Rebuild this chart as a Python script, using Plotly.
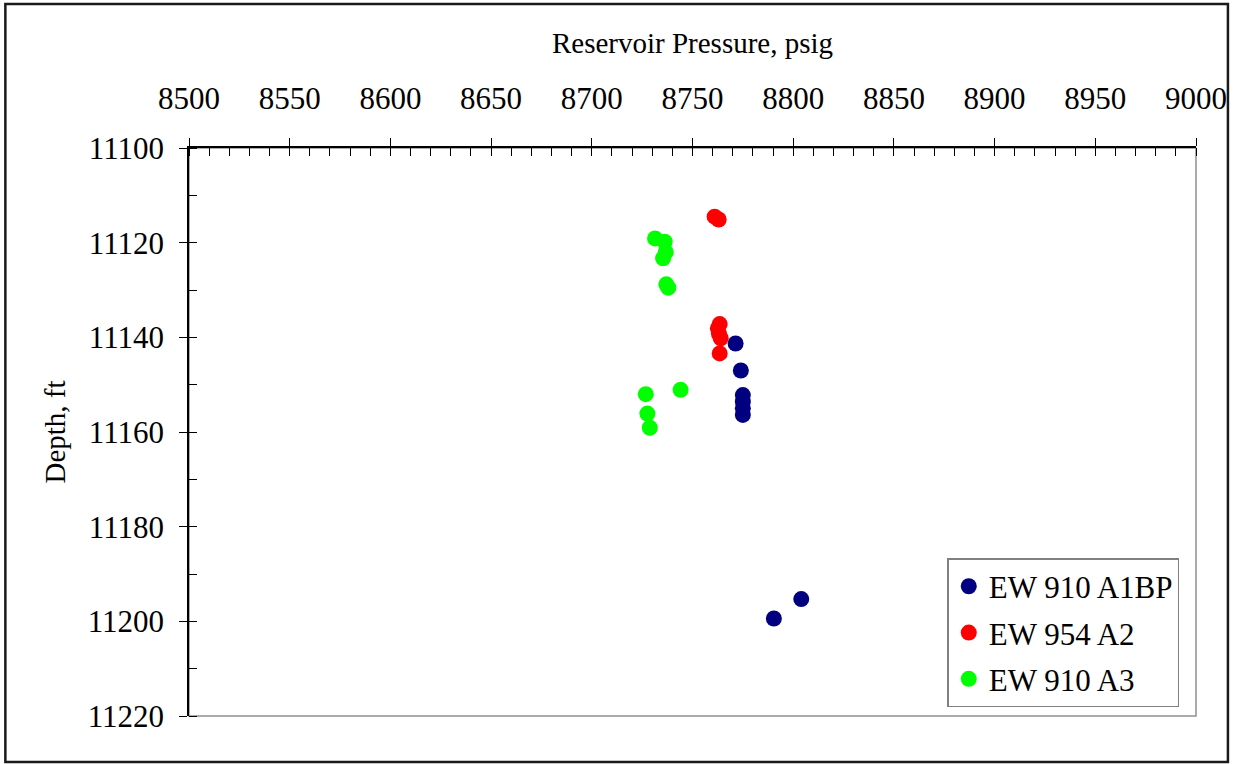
import plotly.graph_objects as go

# ---- data ----
series_names = ["EW 910 A1BP", "EW 954 A2", "EW 910 A3"]

a1bp_pressure = [8771.4, 8774.0, 8775.0, 8775.0, 8775.0, 8775.0, 8804.0, 8790.4]
a1bp_depth = [11141.3, 11147.0, 11152.2, 11153.6, 11155.0, 11156.4, 11195.3, 11199.4]

a2_pressure = [8761.0, 8763.0, 8763.5, 8762.6, 8763.1, 8764.0, 8763.5]
a2_depth = [11114.5, 11115.1, 11137.2, 11138.1, 11139.2, 11140.2, 11143.4]

a3_pressure = [8731.4, 8736.2, 8736.7, 8735.4, 8737.0, 8738.0, 8726.8, 8744.1, 8727.6, 8728.8]
a3_depth = [11119.1, 11119.8, 11122.0, 11123.3, 11128.8, 11129.5, 11152.0, 11151.1, 11156.1, 11159.1]

x_range = [8500, 9000]
y_range = [11220, 11100]

colors = ["#000080", "#FF0000", "#00FF00"]
FONT = "Liberation Serif, Times New Roman, serif"

fig = go.Figure()
for name, px, dp, col in zip(series_names,
                             [a1bp_pressure, a2_pressure, a3_pressure],
                             [a1bp_depth, a2_depth, a3_depth], colors):
    fig.add_trace(go.Scatter(x=px, y=dp, mode="markers", name=name,
                             legendgroup=name,
                             marker=dict(color=col, size=16, line=dict(width=0))))

# invisible trace to host overlay axes (inside major ticks)
fig.add_trace(go.Scatter(x=[x_range[0]], y=[y_range[1]], xaxis="x2", yaxis="y2",
                         mode="markers", marker=dict(opacity=0), showlegend=False,
                         hoverinfo="skip"))

tickfont = dict(family=FONT, size=31, color="black")

fig.update_layout(
    width=1239, height=764,
    margin=dict(l=189, r=41, t=148, b=48),
    paper_bgcolor="white", plot_bgcolor="white",
    font=dict(family=FONT, color="black"),
    xaxis=dict(range=x_range, side="top", dtick=50, tick0=8500, tickformat="d",
               ticks="outside", ticklen=8, tickwidth=1.2, tickcolor="black",
               minor=dict(dtick=10, ticks="inside", ticklen=8, tickwidth=1.2, tickcolor="black"),
               showline=True, linecolor="black", linewidth=1.5,
               showgrid=False, zeroline=False, tickfont=tickfont,
               ticklabelstandoff=17,
               title=dict(text="Reservoir Pressure, psig",
                          font=dict(family=FONT, size=29, color="black"), standoff=19)),
    yaxis=dict(range=y_range, dtick=20, tick0=11100, tickformat="d",
               ticks="outside", ticklen=8, tickwidth=1.2, tickcolor="black",
               minor=dict(dtick=10, ticks="inside", ticklen=8, tickwidth=1.2, tickcolor="black"),
               showline=True, linecolor="black", linewidth=1.5,
               showgrid=False, zeroline=False, tickfont=tickfont,
               ticklabelstandoff=9,
               title=dict(text="Depth, ft",
                          font=dict(family=FONT, size=29, color="black"), standoff=14)),
    xaxis2=dict(range=x_range, overlaying="x", side="top", anchor="y2", dtick=50, tick0=8500,
                ticks="inside", ticklen=8, tickwidth=1.2, tickcolor="black",
                showticklabels=False, showline=False, showgrid=False, zeroline=False),
    yaxis2=dict(range=y_range, overlaying="y", side="left", anchor="x2", dtick=20, tick0=11100,
                ticks="inside", ticklen=8, tickwidth=1.2, tickcolor="black",
                showticklabels=False, showline=False, showgrid=False, zeroline=False),
    legend=dict(x=0.753, y=0.278, xanchor="left", yanchor="top",
                bgcolor="white", bordercolor="#808080", borderwidth=1.5,
                font=dict(family=FONT, size=31, color="black"),
                traceorder="grouped", tracegroupgap=3, itemwidth=30),
    showlegend=True,
    shapes=[
        dict(type="rect", xref="paper", yref="paper", x0=0, x1=1, y0=0, y1=1,
             line=dict(color="#909090", width=1.5), layer="below"),
        dict(type="rect", xref="paper", yref="paper",
             x0=-0.18236, x1=1.03171, y0=-0.08099, y1=1.25352,
             line=dict(color="#1a1a1a", width=2.5), fillcolor="rgba(0,0,0,0)"),
    ],
)

fig.write_html("out.html", config={"displayModeBar": False},
               post_script="document.body.style.margin='0';")
